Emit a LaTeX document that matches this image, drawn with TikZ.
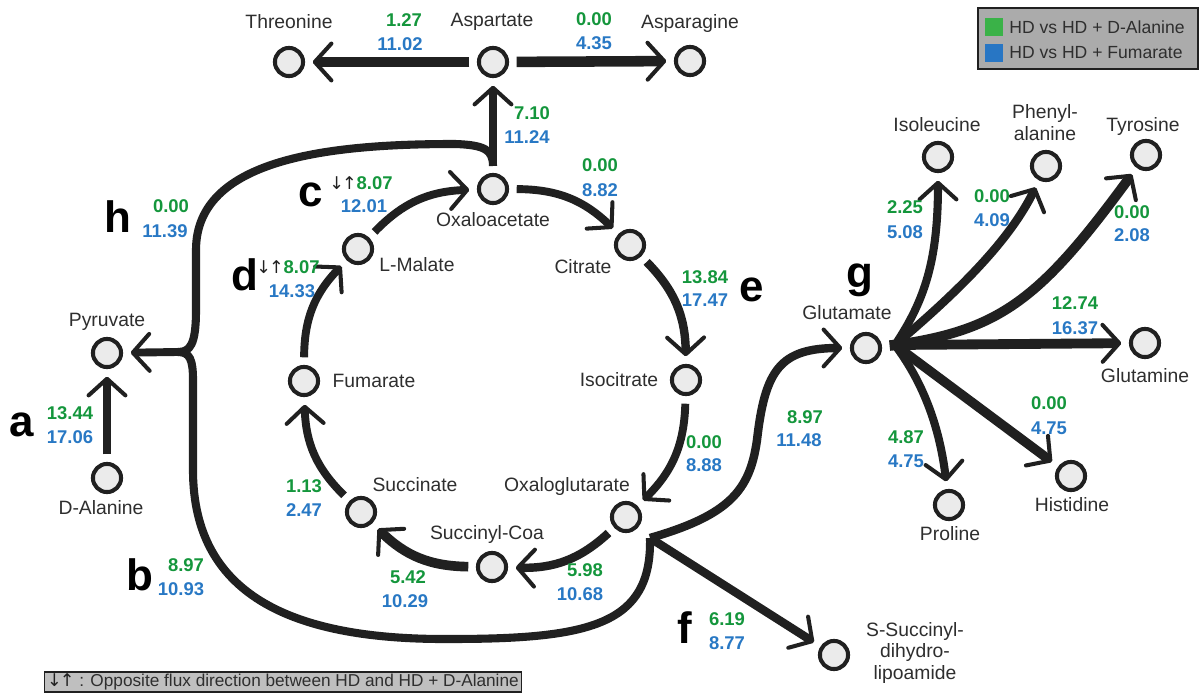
\documentclass[tikz,border=0pt]{standalone}
\usepackage{fontspec}
\setmainfont{Liberation Sans}
\newfontfamily\arrowfont{DejaVu Sans}
\usetikzlibrary{arrows.meta}
\definecolor{grn}{RGB}{20,150,60}
\definecolor{blu}{RGB}{40,120,196}
\definecolor{ink}{RGB}{32,32,32}
\definecolor{keygrn}{RGB}{58,178,72}
\definecolor{keyblu}{RGB}{40,118,196}
\newcommand{\oppdir}{{\arrowfont\mdseries\fontsize{10}{12}\selectfont\color{ink}↓\kern-0.12em↑}}
\begin{document}
\begin{tikzpicture}[x=0.02cm, y=0.02cm,
    met/.style={circle, draw=ink, fill=black!8, line width=2.3pt, minimum size=16pt, inner sep=0pt, outer sep=5.5pt},
    lbl/.style={text=black!82, font=\fontsize{11}{12.5}\selectfont, align=center, inner sep=0pt},
    gv/.style={text=grn, font=\bfseries\fontsize{10.5}{12}\selectfont, inner sep=0pt},
    bv/.style={text=blu, font=\bfseries\fontsize{10.5}{12}\selectfont, inner sep=0pt},
    tag/.style={font=\bfseries\fontsize{25}{26}\selectfont, inner sep=0pt},
    fx/.style={draw=ink, line width=4.8pt, -{Straight Barb[length=9.5pt, width=21pt, line width=2.3pt 0 0, round]}},
    brc/.style={draw=ink, line width=4.6pt}]

  \useasboundingbox (0,0) rectangle (1201,-695);

  % Metabolites
  \node[met] (thr)  at (289,-62) {};
  \node[met] (asp)  at (493,-62) {};
  \node[met] (aspn) at (690,-61) {};
  \node[met] (oxa)  at (493,-189) {};
  \node[met] (cit)  at (630,-245) {};
  \node[met] (iso)  at (686,-380) {};
  \node[met] (oxg)  at (626,-517) {};
  \node[met] (sco)  at (492,-567) {};
  \node[met] (suc)  at (361,-512) {};
  \node[met] (fum)  at (304,-381) {};
  \node[met] (mal)  at (358,-249) {};
  \node[met] (pyr)  at (107,-353) {};
  \node[met] (dala) at (107,-478) {};
  \node[met] (glu)  at (866,-348) {};
  \node[met] (ile)  at (938,-157) {};
  \node[met] (phe)  at (1046,-166) {};
  \node[met] (tyr)  at (1146,-155) {};
  \node[met] (gln)  at (1145,-343) {};
  \node[met] (his)  at (1071,-476) {};
  \node[met] (pro)  at (949,-505) {};
  \node[met] (ssl)  at (834,-655) {};

  % Names
  \node[lbl] (thrL)  at (289,-22) {Threonine};
  \node[lbl] (aspL)  at (492,-22) {Aspartate};
  \node[lbl] (aspnL) at (690,-24) {Asparagine};
  \node[lbl] (oxaL)  at (493,-220) {Oxaloacetate};
  \node[lbl] (citL)  at (583,-267) {Citrate};
  \node[lbl] (malL)  at (417,-265) {L-Malate};
  \node[lbl] (isoL)  at (619,-380) {Isocitrate};
  \node[lbl] (oxgL)  at (567,-487) {Oxaloglutarate};
  \node[lbl] (scoL)  at (487,-535) {Succinyl-Coa};
  \node[lbl] (sucL)  at (415,-485) {Succinate};
  \node[lbl] (fumL)  at (374,-381) {Fumarate};
  \node[lbl] (pyrL)  at (107,-322) {Pyruvate};
  \node[lbl] (dalaL) at (101,-508) {D-Alanine};
  \node[lbl] (gluL)  at (847,-313) {Glutamate};
  \node[lbl] (ileL)  at (937,-125) {Isoleucine};
  \node[lbl] (pheL)  at (1045,-123) {Phenyl-\\alanine};
  \node[lbl] (tyrL)  at (1143,-127) {Tyrosine};
  \node[lbl] (glnL)  at (1145,-376) {Glutamine};
  \node[lbl] (hisL)  at (1072,-505) {Histidine};
  \node[lbl] (proL)  at (950,-534) {Proline};
  \node[lbl] (sslL)  at (915,-653) {S-Succinyl-\\dihydro-\\lipoamide};

  % Junctions
  \coordinate (jo) at (493,-166);
  \coordinate (jp) at (178,-352);
  \coordinate (jg) at (650,-538);
  \coordinate (jf) at (895,-345);

  % Fluxes
  \draw[fx, line width=6pt] (asp) -- (thr);
  \draw[fx, line width=6pt] (asp) -- (aspn);
  \draw[fx] (oxa) -- (asp);
  \draw[fx, line width=4.5pt] (oxa) to[bend left=22] (cit);
  \draw[fx] (cit) to[bend left=22] (iso);
  \draw[fx, line width=4.5pt] (iso) to[bend left=22] (oxg);
  \draw[fx] (oxg) to[bend left=22] (sco);
  \draw[fx, line width=5.5pt] (sco) to[bend left=22] (suc);
  \draw[fx, line width=4.5pt] (suc) to[bend left=22] (fum);
  \draw[fx, line width=4.5pt] (fum) to[bend left=22] (mal);
  \draw[fx, line width=4.5pt] (mal) to[bend left=22] (oxa);
  \draw[fx, line width=4.4pt] (dala) -- (pyr);

  \draw[brc] (jo) .. controls (493,-150) and (485,-145) .. (455,-144)
    .. controls (330,-144) and (196,-158) .. (196,-250) -- (196,-310)
    .. controls (196,-345) and (190,-352) .. (jp);
  \draw[brc] (jp) .. controls (190,-352) and (193,-360) .. (193,-380) -- (193,-470)
    .. controls (193,-600) and (300,-640) .. (450,-639)
    .. controls (590,-639) and (652,-625) .. (jg);
  \draw[fx, line width=4.5pt] (jp) -- (pyr);

  \draw[fx] (jg) .. controls (730,-515) and (750,-490) .. (757,-440)
    .. controls (765,-370) and (780,-348) .. (glu);
  \draw[fx] (jg) -- (ssl);

  \draw[brc, line width=6pt] (glu) -- (jf);
  \draw[fx, line width=4.6pt] (jf) .. controls (925,-300) and (938,-260) .. (ile);
  \draw[fx] (jf) .. controls (960,-290) and (1010,-240) .. (phe);
  \draw[fx, line width=5.6pt] (jf) .. controls (1000,-330) and (1040,-300) .. (tyr);
  \draw[fx, line width=5.6pt] (jf) -- (gln);
  \draw[fx, line width=5.4pt] (jf) -- (his);
  \draw[fx, line width=4.6pt] (jf) .. controls (925,-385) and (940,-430) .. (pro);

  % Values
  \node[gv] (v1g) at (404,-20) {1.27};   \node[bv] (v1b) at (400,-44) {11.02};
  \node[gv] (v2g) at (594,-19) {0.00};   \node[bv] (v2b) at (594,-43) {4.35};
  \node[gv] (v3g) at (532,-113) {7.10};  \node[bv] (v3b) at (527,-137) {11.24};
  \node[gv] (v4g) at (600,-165) {0.00};  \node[bv] (v4b) at (600,-190) {8.82};
  \node[gv] (v5g) at (705,-277) {13.84}; \node[bv] (v5b) at (705,-300) {17.47};
  \node[gv] (v6g) at (704,-442) {0.00};  \node[bv] (v6b) at (704,-465) {8.88};
  \node[gv] (v7g) at (585,-570) {5.98};  \node[bv] (v7b) at (580,-594) {10.68};
  \node[gv] (v8g) at (408,-577) {5.42};  \node[bv] (v8b) at (405,-601) {10.29};
  \node[gv] (v9g) at (304,-486) {1.13};  \node[bv] (v9b) at (304,-510) {2.47};
  \node[gv] (v10g) at (288,-267) {\oppdir8.07}; \node[bv] (v10b) at (292,-291) {14.33};
  \node[gv] (v11g) at (361,-183) {\oppdir8.07}; \node[bv] (v11b) at (364,-206) {12.01};
  \node[gv] (v12g) at (171,-206) {0.00};  \node[bv] (v12b) at (165,-231) {11.39};
  \node[gv] (v13g) at (70,-413) {13.44};  \node[bv] (v13b) at (70,-437) {17.06};
  \node[gv] (v14g) at (186,-565) {8.97};  \node[bv] (v14b) at (181,-589) {10.93};
  \node[gv] (v15g) at (805,-417) {8.97};  \node[bv] (v15b) at (799,-440) {11.48};
  \node[gv] (v16g) at (727,-619) {6.19};  \node[bv] (v16b) at (727,-643) {8.77};
  \node[gv] (v17g) at (905,-207) {2.25};  \node[bv] (v17b) at (905,-232) {5.08};
  \node[gv] (v18g) at (992,-196) {0.00};  \node[bv] (v18b) at (992,-220) {4.09};
  \node[gv] (v19g) at (1132,-212) {0.00}; \node[bv] (v19b) at (1132,-235) {2.08};
  \node[gv] (v20g) at (1075,-303) {12.74}; \node[bv] (v20b) at (1075,-328) {16.37};
  \node[gv] (v21g) at (1049,-403) {0.00}; \node[bv] (v21b) at (1049,-428) {4.75};
  \node[gv] (v22g) at (906,-437) {4.87};  \node[bv] (v22b) at (906,-461) {4.75};

  % Panel letters
  \node[tag] (a) at (22,-425) {a};
  \node[tag] (b) at (140,-575) {b};
  \node[tag] (c) at (311,-195) {c};
  \node[tag] (d) at (245,-275) {d};
  \node[tag] (e) at (752,-290) {e};
  \node[tag] (f) at (685,-628) {f};
  \node[tag] (g) at (860,-280) {g};
  \node[tag] (h) at (118,-217) {h};

  % Legend and note
  \draw[draw=ink, fill=black!33, line width=0.9pt] (978,-8) rectangle (1198,-69);
  \fill[keygrn] (985,-18) rectangle (1003,-36);
  \fill[keyblu] (985,-44) rectangle (1003,-62);
  \node[lbl, anchor=west, font=\fontsize{10}{12}\selectfont] (key1) at (1009,-27) {HD vs HD + D-Alanine};
  \node[lbl, anchor=west, font=\fontsize{10}{12}\selectfont] (key2) at (1009,-53) {HD vs HD + Fumarate};
  \node[lbl, font=\fontsize{9.8}{12}\selectfont, draw=ink, fill=black!25, line width=0.9pt, inner xsep=1.5pt, minimum height=11.5pt] (note) at (283,-682)
    {\oppdir{} : Opposite flux direction between HD and HD + D-Alanine};

\end{tikzpicture}
\end{document}
